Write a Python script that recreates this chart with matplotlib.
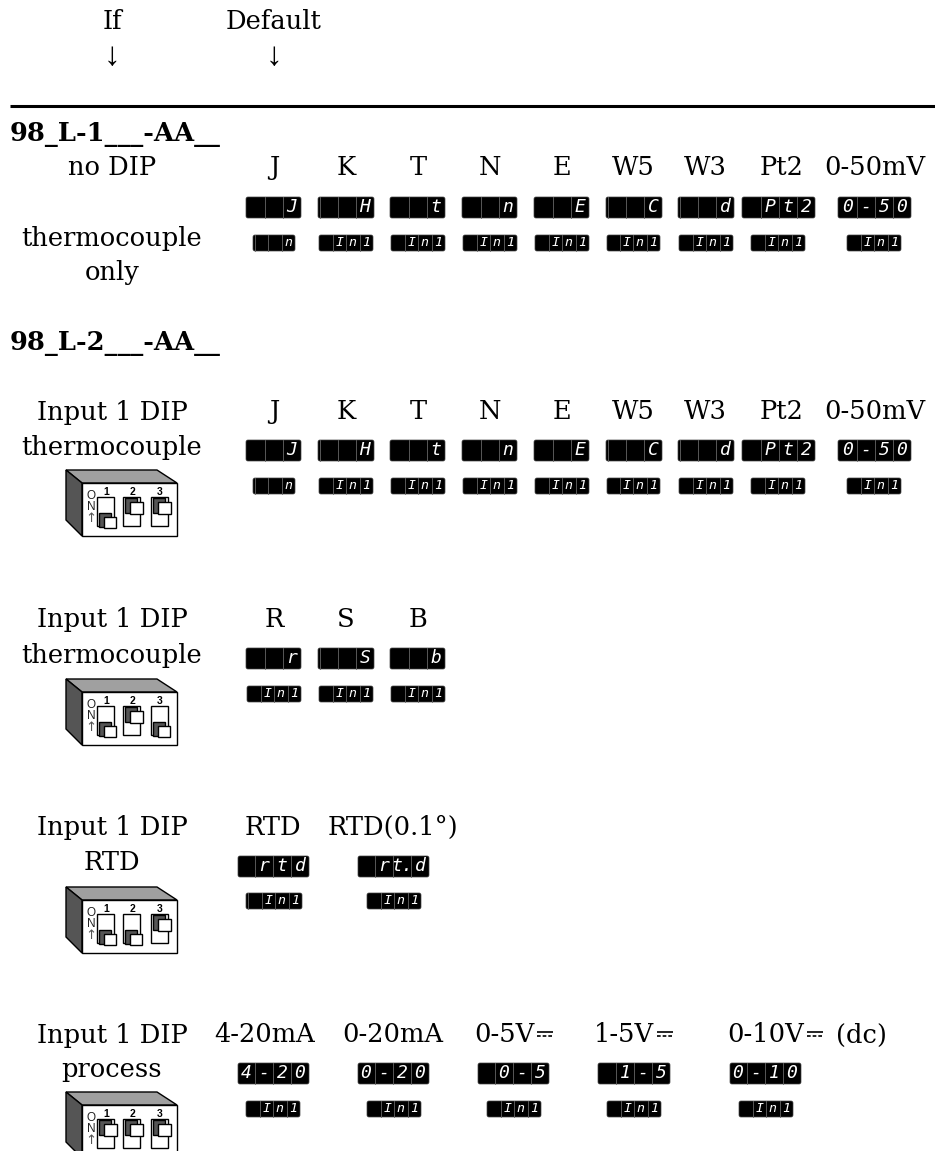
import matplotlib
matplotlib.use("Agg")
import matplotlib.pyplot as plt
from matplotlib.patches import FancyBboxPatch, Polygon, Rectangle

W, H = 935, 1151
SERIF = ["DejaVu Serif", "DejaVu Sans"]
MONO = "DejaVu Sans Mono"

# thermocouple row, used twice
tc_labels = ["J", "K", "T", "N", "E", "W5", "W3", "Pt2", "0-50mV"]
tc_label_x = [274, 346, 418, 490, 562, 633, 705, 782, 875]
tc_big = ["J", "H", "t", "n", "E", "C", "d", "Pt2", "0-50"]
tc_big_x = [(246, 301), (318, 374), (390, 445), (462, 517), (534, 589), (606, 662), (678, 734), (742, 815), (838, 911)]
tc_small = ["n", "In1", "In1", "In1", "In1", "In1", "In1", "In1", "In1"]
tc_small_x = [(253, 295), (319, 373), (391, 445), (463, 517), (535, 589), (607, 660), (679, 733), (751, 805), (847, 901)]

rsb_labels = ["R", "S", "B"]
rsb_label_x = [274, 346, 418]
rsb_big = ["r", "S", "b"]
rsb_big_x = [(246, 301), (318, 374), (390, 445)]
rsb_small = ["In1", "In1", "In1"]
rsb_small_x = [(247, 301), (319, 373), (391, 445)]

rtd_labels = ["RTD", "RTD(0.1°)"]
rtd_label_x = [273, 393]
rtd_big = ["rtd", "rt.d"]
rtd_big_x = [(238, 309), (358, 429)]
rtd_small = ["In1", "In1"]
rtd_small_x = [(246, 302), (367, 421)]

proc_labels = ["4-20mA", "0-20mA", "0-5V", "1-5V", "0-10V"]
proc_label_x = [265, 393, 504, 624, 766]
proc_big = ["4-20", "0-20", "0-5", "1-5", "0-10"]
proc_big_x = [(238, 309), (358, 429), (478, 549), (598, 670), (730, 801)]
proc_small = ["In1", "In1", "In1", "In1", "In1"]
proc_small_x = [(246, 300), (367, 421), (487, 541), (607, 661), (739, 793)]
dc_sign_x = [(537, 553), (657, 673), (807, 823)]

# knob positions of the three switches, True = up
dip1 = [False, True, True]
dip2 = [False, True, False]
dip3 = [False, False, True]
dip4 = [True, True, True]


def txt(ax, x, y, s, size=18.5, weight="normal", ha="center"):
    ax.text(x, y, s, fontsize=size, fontweight=weight, ha=ha, va="center", family=SERIF, color="black")


def arrow(ax, x, y):
    ax.text(x, y, "↓", fontsize=24, ha="center", va="center", family="Liberation Serif", color="black")


def readout(ax, x0, x1, y0, y1, s, cell, size):
    ax.add_patch(FancyBboxPatch((x0 + 1, y0 + 1), x1 - x0 - 2, y1 - y0 - 2, boxstyle="round,pad=1,rounding_size=2",
                                fc="black", ec="#444444", lw=0.5))
    k = 1
    while x1 - k * cell > x0 + 1:
        ax.plot([x1 - k * cell] * 2, [y0, y1], color="#666666", lw=0.6)
        k += 1
    # one character per display cell, a dot stays with the one before
    chars = []
    for c in s:
        if c == "." and chars:
            chars[-1] += c
        else:
            chars.append(c)
    for i, c in enumerate(reversed(chars)):
        ax.text(x1 - (i + 0.5) * cell, (y0 + y1) / 2 - 0.5, c, color="white", fontsize=size, family=MONO,
                style="oblique", ha="center", va="center")


def row(ax, labels, label_x, big, big_x, small, small_x, y_label, y_big, y_small):
    for s, x in zip(labels, label_x):
        txt(ax, x, y_label, s)
    for s, (a, b) in zip(big, big_x):
        readout(ax, a, b, y_big, y_big + 21, s, 18, 13)
    for s, (a, b) in zip(small, small_x):
        readout(ax, a, b, y_small, y_small + 16, s, 13.5, 9.5)


def dip(ax, top, knobs):
    front = top + 13
    ax.add_patch(Polygon([(66, top), (157, top), (177, front), (82, front)], fc="#a0a0a0", ec="black", lw=1))
    ax.add_patch(Polygon([(66, top), (82, front), (82, front + 53), (66, front + 37)], fc="#555555", ec="black", lw=1))
    ax.add_patch(Rectangle((82, front), 95, 53, fc="white", ec="black", lw=1))
    ax.text(91, front + 13, "O", fontsize=8.5, family="Liberation Sans", ha="center", va="center", color="#222222")
    ax.text(91, front + 24, "N", fontsize=8.5, family="Liberation Sans", ha="center", va="center", color="#222222")
    ax.text(91, front + 35, "↑", fontsize=9.5, family="DejaVu Sans", ha="center", va="center", color="#555555")
    for i, x in enumerate((97, 123, 151)):
        ax.text(x + 9, front + 9, str(i + 1), fontsize=7.5, fontweight="bold", family="Liberation Sans",
                ha="center", va="center")
        ax.add_patch(Rectangle((x, front + 14), 17, 29, fc="white", ec="black", lw=1))
        if knobs[i]:
            ax.add_patch(Rectangle((x + 2, front + 15), 12, 15, fc="#555555", ec="black", lw=1))
            ax.add_patch(Rectangle((x + 7, front + 19), 13, 12, fc="white", ec="black", lw=1))
        else:
            ax.add_patch(Rectangle((x + 2, front + 30), 12, 14, fc="#555555", ec="black", lw=1))
            ax.add_patch(Rectangle((x + 7, front + 34), 12, 11, fc="white", ec="black", lw=1))


fig = plt.figure(figsize=(W / 100, H / 100), dpi=100)
ax = fig.add_axes([0, 0, 1, 1])
ax.set_xlim(0, W)
ax.set_ylim(H, 0)
ax.axis("off")

txt(ax, 112, 21, "If")
txt(ax, 274, 21, "Default")
arrow(ax, 112, 57)
arrow(ax, 274, 57)
ax.plot([10, W], [106, 106], color="black", lw=2.2, solid_capstyle="butt")

txt(ax, 10, 134, "98_L-1___-AA__", weight="bold", ha="left")
txt(ax, 112, 167, "no DIP")
txt(ax, 112, 238, "thermocouple")
txt(ax, 112, 272, "only")
row(ax, tc_labels, tc_label_x, tc_big, tc_big_x, tc_small, tc_small_x, 167, 197, 235)

txt(ax, 10, 343, "98_L-2___-AA__", weight="bold", ha="left")
txt(ax, 112, 412, "Input 1 DIP")
txt(ax, 112, 447, "thermocouple")
row(ax, tc_labels, tc_label_x, tc_big, tc_big_x, tc_small, tc_small_x, 411, 440, 478)
dip(ax, 470, dip1)

txt(ax, 112, 619, "Input 1 DIP")
txt(ax, 112, 655, "thermocouple")
row(ax, rsb_labels, rsb_label_x, rsb_big, rsb_big_x, rsb_small, rsb_small_x, 619, 648, 686)
dip(ax, 679, dip2)

txt(ax, 112, 827, "Input 1 DIP")
txt(ax, 112, 862, "RTD")
row(ax, rtd_labels, rtd_label_x, rtd_big, rtd_big_x, rtd_small, rtd_small_x, 827, 856, 893)
dip(ax, 887, dip3)

txt(ax, 112, 1035, "Input 1 DIP")
txt(ax, 112, 1070, "process")
row(ax, proc_labels, proc_label_x, proc_big, proc_big_x, proc_small, proc_small_x, 1035, 1063, 1101)
txt(ax, 861, 1035, "(dc)")
for a, b in dc_sign_x:
    ax.plot([a, b], [1032, 1032], color="black", lw=1.2, solid_capstyle="butt")
    ax.plot([a, b], [1036, 1036], color="black", lw=1.2, dashes=(2.2, 1.2))
dip(ax, 1092, dip4)

fig.savefig("out.png", dpi=100)
